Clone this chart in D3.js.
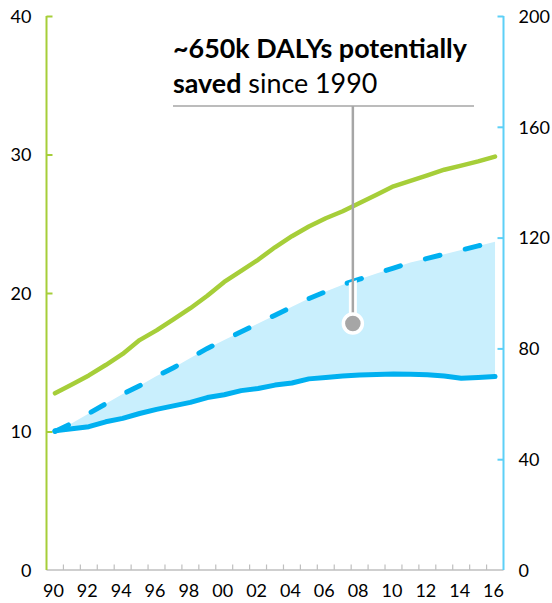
<!DOCTYPE html>
<html>
<head>
<meta charset="utf-8">
<script src="https://cdn.jsdelivr.net/npm/d3@7"></script>
<style>
  html, body { margin: 0; padding: 0; background: #fff; }
  svg { display: block; font-family: Lato, "Open Sans", sans-serif; }
</style>
</head>
<body>
<svg id="chart" width="552" height="603"></svg>
<script>
// Years on the x axis and the three series (left-axis units)
const years = d3.range(1990, 2017);
const yearLabels = ["90","92","94","96","98","00","02","04","06","08","10","12","14","16"];
const greenSeries = [12.76, 13.4, 14.05, 14.8, 15.6, 16.6, 17.3, 18.1, 18.9, 19.8, 20.8, 21.6, 22.4, 23.3,
                     24.1, 24.8, 25.4, 25.9, 26.5, 27.1, 27.7, 28.1, 28.5, 28.9, 29.2, 29.5, 29.85];
const dashedSeries = [10.0, 10.6, 11.3, 12.0, 12.7, 13.3, 14.0, 14.6, 15.3, 16.0, 16.6, 17.2, 17.8, 18.4,
                      19.0, 19.6, 20.1, 20.6, 21.0, 21.4, 21.8, 22.2, 22.5, 22.8, 23.1, 23.4, 23.7];
const solidSeries = [10.05, 10.2, 10.35, 10.7, 10.95, 11.3, 11.6, 11.85, 12.1, 12.45, 12.65, 12.95, 13.1, 13.35,
                     13.5, 13.8, 13.9, 14.0, 14.08, 14.12, 14.15, 14.13, 14.1, 14.0, 13.85, 13.9, 13.97];
const leftTicks = [0, 10, 20, 30, 40];
const rightTicks = [0, 40, 80, 120, 160, 200];
const annotationLines = [["~650k DALYs potentially", ""], ["saved", " since 1990"]];
const annotationPoint = { year: 2007.6, value: 17.8 };

const C = {
  green: "#a6ce39",
  blue: "#00b0f0",
  fill: "#c9effd",
  rightAxis: "#5dd0f7",
  grid: "#bfbfbf",
  note: "#a6a6a6",
  text: "#000"
};

const svg = d3.select("#chart");
const plotLeft = 46.5, plotRight = 503.5, plotTop = 16, plotBottom = 570;

const x = d3.scaleLinear().domain([1989.5, 2016.5]).range([plotLeft, plotRight]);
const yL = d3.scaleLinear().domain([0, 40]).range([plotBottom, plotTop]);
const yR = d3.scaleLinear().domain([0, 200]).range([plotBottom, plotTop]);

const rows = years.map((yr, i) => ({ yr, g: greenSeries[i], d: dashedSeries[i], s: solidSeries[i] }));

// Shaded gap between the dashed and solid series
const area = d3.area().x(r => x(r.yr)).y0(r => yL(r.s)).y1(r => yL(r.d));
svg.append("defs").append("clipPath").attr("id", "gapClip")
  .append("path").attr("d", area(rows));
svg.append("path").attr("d", area(rows)).attr("fill", C.fill);

// Bottom axis: boundary ticks pointing up, labels every other year
const boundaries = d3.range(1990.5, 2016.5, 1);
const gx = svg.append("g").attr("transform", `translate(0,${plotBottom})`);
gx.append("line").attr("x1", plotLeft).attr("x2", plotRight).attr("stroke", C.grid).attr("stroke-width", 1.5);
gx.selectAll("line.tk").data(boundaries).join("line").attr("class", "tk")
  .attr("x1", d => x(d)).attr("x2", d => x(d)).attr("y1", 0).attr("y2", -5.5)
  .attr("stroke", C.grid).attr("stroke-width", 1.2);
gx.selectAll("text").data(yearLabels).join("text")
  .attr("x", (d, i) => x(1990 + 2 * i) - 1.5).attr("y", 27)
  .attr("text-anchor", "middle").attr("font-size", 18).attr("fill", C.text).text(d => d);

// Left axis (green)
const gl = svg.append("g").attr("transform", `translate(${plotLeft},0)`)
  .call(d3.axisRight(yL).tickValues(leftTicks).tickSize(6).tickFormat(""));
gl.attr("font-family", null).attr("font-size", null);
gl.select(".domain").attr("d", `M0,${plotTop}V${plotBottom}`).attr("stroke", C.green).attr("stroke-width", 2);
gl.selectAll(".tick line").attr("stroke", C.green).attr("stroke-width", 2);
gl.selectAll(".tick").filter(d => d === 0).select("line").remove();
gl.selectAll(".tick text").remove();
gl.selectAll(".tick").append("text").attr("x", -15).attr("dy", "0.35em")
  .attr("text-anchor", "end").attr("font-size", 18).attr("fill", C.text).text(d => d);

// Right axis (blue)
const gr = svg.append("g").attr("transform", `translate(${plotRight},0)`)
  .call(d3.axisLeft(yR).tickValues(rightTicks).tickSize(6).tickFormat(""));
gr.attr("font-family", null).attr("font-size", null);
gr.select(".domain").attr("d", `M0,${plotTop}V${plotBottom}`).attr("stroke", C.rightAxis).attr("stroke-width", 2);
gr.selectAll(".tick line").attr("stroke", C.rightAxis).attr("stroke-width", 2);
gr.selectAll(".tick").filter(d => d === 0).select("line").remove();
gr.selectAll(".tick text").remove();
gr.selectAll(".tick").append("text").attr("x", 15).attr("dy", "0.35em")
  .attr("text-anchor", "start").attr("font-size", 18).attr("fill", C.text).text(d => d);

// Series lines
const lineOf = key => d3.line().x(r => x(r.yr)).y(r => yL(r[key]));
svg.append("path").attr("d", lineOf("g")(rows)).attr("fill", "none")
  .attr("stroke", C.green).attr("stroke-width", 4.5).attr("stroke-linecap", "round").attr("stroke-linejoin", "round");
svg.append("path").attr("d", lineOf("d")(rows)).attr("fill", "none")
  .attr("stroke", C.blue).attr("stroke-width", 5).attr("stroke-linecap", "round")
  .attr("stroke-dasharray", "15,26");
svg.append("path").attr("d", lineOf("s")(rows)).attr("fill", "none")
  .attr("stroke", C.blue).attr("stroke-width", 5).attr("stroke-linecap", "round").attr("stroke-linejoin", "round");

// Annotation text, underline and pointer
const noteX = 173;
const note = svg.append("g");
const t1 = note.append("text").attr("x", noteX).attr("y", 58).attr("font-size", 24)
  .attr("font-weight", "bold").attr("fill", C.text).text(annotationLines[0][0]);
const w1 = t1.node().getComputedTextLength();
const fs = 24 * 294 / w1;
t1.attr("font-size", fs);
const t2 = note.append("text").attr("x", noteX).attr("y", 93).attr("font-size", fs).attr("fill", C.text);
t2.append("tspan").attr("font-weight", "bold").text(annotationLines[1][0]);
t2.append("tspan").attr("font-weight", "normal").text(annotationLines[1][1]);

const px = x(annotationPoint.year), py = yL(annotationPoint.value);
note.append("line").attr("x1", noteX).attr("x2", 474).attr("y1", 106).attr("y2", 106)
  .attr("stroke", C.note).attr("stroke-width", 1.5);
note.append("line").attr("x1", px).attr("x2", px).attr("y1", 106).attr("y2", py)
  .attr("stroke", "#fff").attr("stroke-width", 8).attr("clip-path", "url(#gapClip)");
note.append("line").attr("x1", px).attr("x2", px).attr("y1", 106).attr("y2", py)
  .attr("stroke", C.note).attr("stroke-width", 2.5);
note.append("circle").attr("cx", px).attr("cy", py).attr("r", 9.5)
  .attr("fill", C.note).attr("stroke", "#fff").attr("stroke-width", 3.5);
</script>
</body>
</html>
